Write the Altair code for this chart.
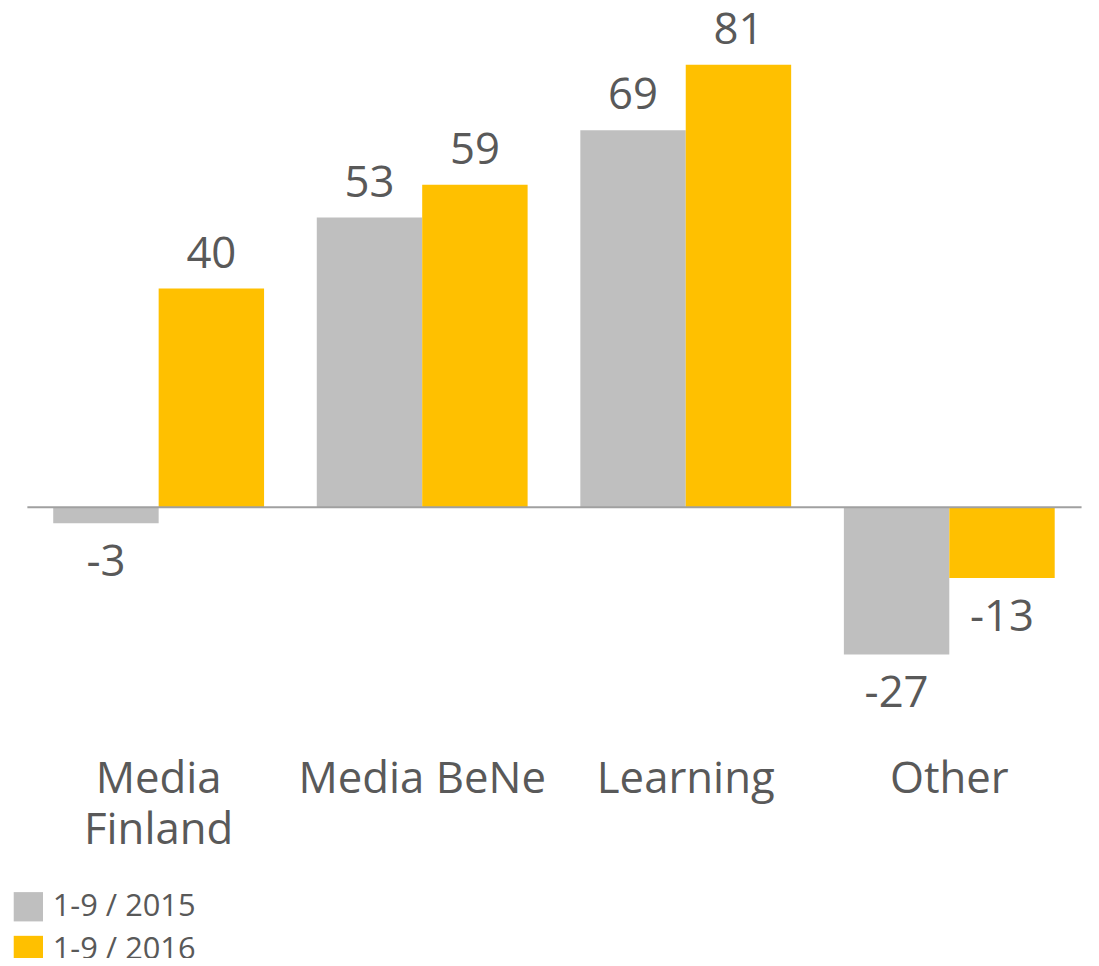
import altair as alt
import pandas as pd

categories = ["Media Finland", "Media BeNe", "Learning", "Other"]
series = ["1-9 / 2015", "1-9 / 2016"]
values_2015 = [-3, 53, 69, -27]
values_2016 = [40, 59, 81, -13]
colors = ["#BFBFBF", "#FFC000"]

rows = []
for c, v in zip(categories, values_2015):
    rows.append({"cat": c, "series": series[0], "value": v})
for c, v in zip(categories, values_2016):
    rows.append({"cat": c, "series": series[1], "value": v})
df = pd.DataFrame(rows)

FONT = "Open Sans"
TXT = "#595959"
YDOM = [-30, 85]

x_enc = alt.X("cat:N", sort=categories,
              scale=alt.Scale(paddingInner=0.2, paddingOuter=0.1),
              axis=alt.Axis(title=None, domain=False, ticks=False, labelAngle=0,
                            labelFontSize=44, labelFont=FONT, labelColor=TXT,
                            labelPadding=88, labelLimit=0, labelLineHeight=51,
                            labelExpr="datum.value == 'Media Finland' ? ['Media', 'Finland'] : datum.value"))
xoff = alt.XOffset("series:N", sort=series)
y_enc = alt.Y("value:Q", scale=alt.Scale(domain=YDOM, nice=False),
              axis=alt.Axis(values=[0], grid=True, gridColor="#A0A0A0", gridWidth=2,
                            labels=False, ticks=False, domain=False, title=None, zindex=1))

base = alt.Chart(df).transform_calculate(label="'' + datum.value")

bars = base.mark_bar().encode(
    x=x_enc, xOffset=xoff, y=y_enc,
    color=alt.Color("series:N", sort=series,
                    scale=alt.Scale(domain=series, range=colors),
                    legend=alt.Legend(title=None, orient="none", legendX=-14, legendY=854,
                                      symbolType="square", symbolSize=870,
                                      labelFontSize=31, labelFont=FONT, labelColor=TXT,
                                      rowPadding=12, labelOffset=9)),
)

pos_txt = base.transform_filter("datum.value >= 0").mark_text(
    font=FONT, fontSize=44, color=TXT, baseline="alphabetic", dy=-21
).encode(x=x_enc, xOffset=xoff, y=y_enc, text=alt.Text("label:N"))

neg_txt = base.transform_filter("datum.value < 0").mark_text(
    font=FONT, fontSize=44, color=TXT, baseline="alphabetic", dy=53
).encode(x=x_enc, xOffset=xoff, y=y_enc, text=alt.Text("label:N"))

chart = alt.layer(bars, pos_txt, neg_txt).properties(
    width=1061, height=632,
    autosize=alt.AutoSizeParams(type="none"),
    padding={"left": 19, "top": 32, "right": 10, "bottom": 286},
).configure_view(stroke=None)

chart.save("out.html", embed_options={"renderer": "svg", "actions": False})
